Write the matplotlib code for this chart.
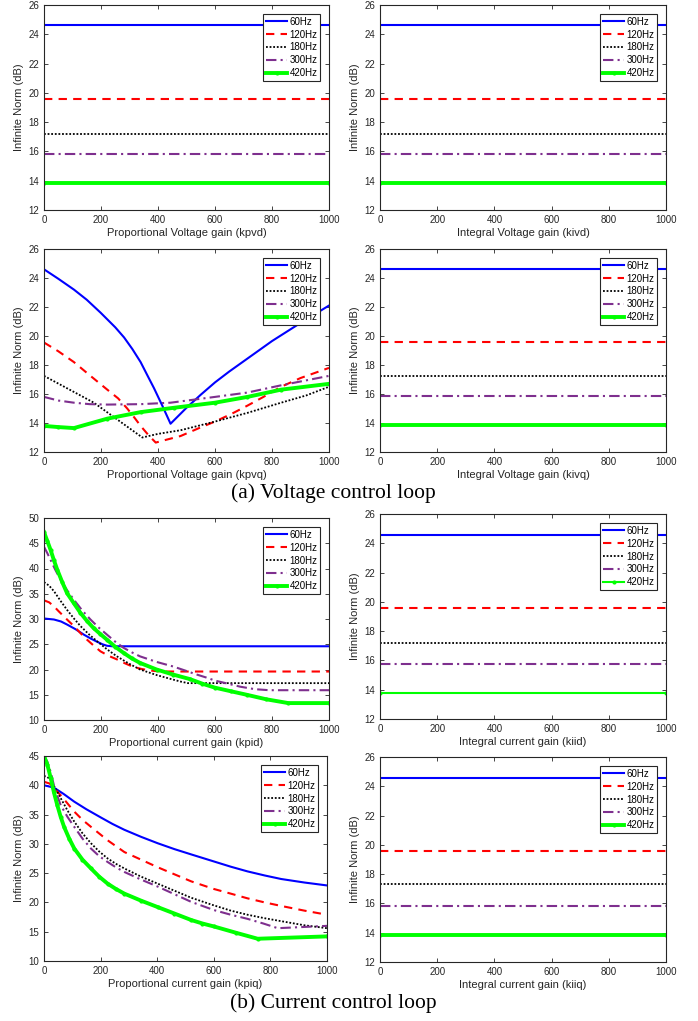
import matplotlib
matplotlib.use('Agg')
import matplotlib.pyplot as plt
import matplotlib.font_manager as fm

# evitar que se elija la variante "Narrow" de Liberation Sans
fm.fontManager.ttflist = [f for f in fm.fontManager.ttflist
                          if 'Narrow' not in f.name and 'Narrow' not in f.fname]
plt.rcParams['font.family'] = ['Liberation Sans', 'DejaVu Sans']

freqs = ['60Hz', '120Hz', '180Hz', '300Hz', '420Hz']
gain_span = [0, 1000]

# niveles constantes (ganancias integrales y kpvd)
kpvd_level = [24.6, 19.6, 17.2, 15.8, 13.85]
kivd_level = [24.6, 19.6, 17.2, 15.8, 13.85]
kivq_level = [24.6, 19.6, 17.25, 15.85, 13.85]
kiid_level = [24.55, 19.55, 17.2, 15.75, 13.8]
kiiq_level = [24.6, 19.6, 17.3, 15.8, 13.85]

# barrido kpvq
kpvq_60_x = [0, 50, 105, 150, 199, 250, 281, 310, 339, 365, 386, 415, 444,
             500, 550, 600, 650, 700, 800, 900, 1000]
kpvq_60_y = [24.6, 23.95, 23.2, 22.5, 21.6, 20.6, 19.9, 19.1, 18.2, 17.2, 16.4, 15.2, 13.95,
             15.05, 15.95, 16.8, 17.55, 18.25, 19.65, 20.9, 22.1]
kpvq_120_x = [0, 50, 105, 160, 222, 260, 292, 320, 339, 365, 392, 430, 479,
              550, 600, 660, 714, 770, 832, 900, 1000]
kpvq_120_y = [19.55, 18.95, 18.2, 17.3, 16.3, 15.7, 15.0, 14.3, 13.8, 13.2, 12.65, 12.85, 13.1,
              13.7, 14.1, 14.65, 15.2, 15.8, 16.5, 17.1, 17.8]
kpvq_180_x = [0, 175, 345, 400, 479, 540, 600, 714, 832, 920, 1000]
kpvq_180_y = [17.25, 15.4, 13.0, 13.25, 13.5, 13.8, 14.1, 14.7, 15.4, 15.9, 16.5]
kpvq_300_x = [0, 50, 105, 160, 222, 339, 444, 600, 714, 832, 1000]
kpvq_300_y = [15.8, 15.55, 15.4, 15.3, 15.27, 15.3, 15.4, 15.8, 16.1, 16.6, 17.25]
kpvq_420_x = [0, 50, 105, 222, 339, 456, 600, 714, 832, 1000]
kpvq_420_y = [13.8, 13.72, 13.65, 14.3, 14.75, 15.05, 15.4, 15.8, 16.3, 16.7]

# barrido kpid
kpid_60_x = [0, 35, 60, 81, 110, 140, 165, 186, 205, 221, 240, 1000]
kpid_60_y = [30.1, 29.9, 29.5, 28.9, 28.0, 26.9, 26.1, 25.5, 25.0, 24.7, 24.6, 24.6]
kpid_120_x = [0, 18, 35, 52, 70, 88, 105, 128, 151, 175, 198, 227, 256, 285, 314,
              343, 372, 410, 1000]
kpid_120_y = [33.7, 33.3, 32.5, 31.5, 30.5, 29.5, 28.6, 27.2, 25.9, 24.7, 23.6, 22.7, 22.0, 21.2, 20.5,
              20.1, 19.8, 19.6, 19.6]
kpid_180_x = [0, 18, 35, 58, 81, 105, 128, 157, 186, 221, 256, 297, 337, 395, 453, 480, 505, 1000]
kpid_180_y = [37.3, 36.6, 35.5, 33.6, 31.8, 30.1, 28.6, 27.0, 25.6, 24.0, 22.6, 21.2, 20.0, 18.9, 18.0,
              17.6, 17.3, 17.3]
kpid_300_x = [0, 12, 23, 40, 58, 81, 105, 134, 163, 192, 221, 250, 279, 308, 337, 395, 453,
              495, 536, 570, 600, 645, 688, 740, 790, 1000]
kpid_300_y = [44.3, 43.0, 41.7, 39.7, 37.8, 35.7, 33.8, 31.7, 29.9, 28.3, 26.9, 25.5, 24.3, 23.4, 22.6,
              21.5, 20.6, 19.8, 19.0, 18.4, 17.8, 17.2, 16.6, 16.1, 15.9, 15.9]
kpid_420_x = [0, 12, 23, 35, 47, 64, 81, 105, 128, 151, 174, 198, 221, 250, 279, 308, 337, 395,
              453, 512, 555, 600, 655, 711, 780, 857, 1000]
kpid_420_y = [47.2, 45.4, 43.7, 41.6, 39.7, 37.3, 35.1, 33.1, 31.2, 29.6, 28.2, 27.0, 25.9, 24.5, 23.3,
              22.2, 21.3, 20.0, 19.0, 18.1, 17.2, 16.4, 15.7, 15.0, 14.1, 13.35, 13.35]

# barrido kpiq
kpiq_60_x = [0, 35, 70, 107, 150, 201, 242, 284, 343, 402, 461, 520, 600, 660, 719, 780, 838,
             920, 1000]
kpiq_60_y = [40.0, 39.6, 38.5, 37.2, 35.9, 34.5, 33.4, 32.4, 31.2, 30.1, 29.1, 28.2, 27.0, 26.1, 25.3,
             24.6, 24.0, 23.4, 22.9]
kpiq_120_x = [0, 20, 35, 59, 83, 107, 136, 166, 225, 284, 343, 402, 461, 520, 600, 660, 719,
              780, 838, 920, 1000]
kpiq_120_y = [40.6, 40.3, 39.5, 38.3, 36.9, 35.5, 34.1, 32.9, 30.6, 28.6, 27.3, 26.0, 24.8, 23.6, 22.3,
              21.5, 20.7, 20.0, 19.4, 18.6, 17.9]
kpiq_180_x = [0, 12, 24, 40, 59, 83, 107, 136, 166, 195, 225, 254, 284, 343, 402, 461, 520, 600,
              660, 719, 780, 838, 920, 1000]
kpiq_180_y = [41.6, 41.4, 40.9, 39.5, 37.8, 35.7, 33.8, 31.8, 30.1, 28.7, 27.5, 26.6, 25.8, 24.4, 23.2,
              22.0, 20.8, 19.5, 18.6, 17.9, 17.3, 16.8, 16.1, 15.6]
kpiq_300_x = [0, 12, 24, 35, 47, 59, 83, 107, 136, 166, 195, 225, 254, 284, 343, 402, 461, 520,
              600, 660, 719, 775, 826, 1000]
kpiq_300_y = [45.0, 44.0, 42.2, 40.0, 38.2, 36.6, 34.6, 32.9, 30.9, 29.2, 27.9, 26.9, 26.0, 25.2, 23.9,
              22.7, 21.4, 20.1, 18.7, 17.9, 17.2, 16.4, 15.6, 16.0]
kpiq_420_x = [0, 12, 24, 35, 47, 59, 71, 89, 107, 136, 166, 195, 225, 254, 284, 343, 402, 461,
              520, 560, 600, 680, 755, 1000]
kpiq_420_y = [45.0, 43.5, 41.2, 38.8, 36.6, 34.6, 32.9, 30.9, 29.2, 27.3, 25.8, 24.4, 23.2, 22.3, 21.5,
              20.3, 19.2, 18.1, 17.0, 16.4, 15.9, 14.8, 13.8, 14.2]

colors = ['#0000ff', '#ff0000', '#000000', '#7e2f8e', '#00ff00']
styles = ['-', (0, (4, 3)), (0, (1, 1)), (0, (5, 2, 1, 2)), '-']
widths = [1.5, 1.5, 1.3, 1.5, 2.8]

W, H = 698, 1021
fig = plt.figure(figsize=(W / 100, H / 100), dpi=100)


def make_ax(x0, y0, x1, y1):
    return fig.add_axes([x0 / W, 1 - y1 / H, (x1 - x0) / W, (y1 - y0) / H])


def style_ax(ax, xlabel, ylim, yticks):
    ax.set_xlim(0, 1000)
    ax.set_ylim(*ylim)
    ax.set_xticks([0, 200, 400, 600, 800, 1000])
    ax.set_yticks(yticks)
    ax.tick_params(direction='in', top=True, right=True, labelsize=7,
                   colors='#262626', length=3, width=0.6)
    for s in ax.spines.values():
        s.set_color('#262626')
        s.set_linewidth(0.8)
    ax.set_xlabel(xlabel, fontsize=8, color='#262626', labelpad=2)
    ax.set_ylabel('Infinite Norm (dB)', fontsize=8, color='#262626', labelpad=3)
    leg = ax.legend(loc='upper right', fontsize=7, fancybox=False, framealpha=1,
                    edgecolor='#262626', borderpad=0.3, labelspacing=0.3,
                    handlelength=2.2, handletextpad=0.2, borderaxespad=0.9)
    leg.get_frame().set_linewidth(0.8)


def plot_curves(ax, xs, ys, green_lw=2.8):
    for i in range(5):
        lw = green_lw if i == 4 else widths[i]
        mk = '.' if i == 4 else None
        ax.plot(xs[i], ys[i], color=colors[i], linestyle=styles[i], linewidth=lw,
                marker=mk, markersize=4, label=freqs[i])


def plot_flat(ax, levels, green_lw=2.8):
    plot_curves(ax, [gain_span] * 5, [[v, v] for v in levels], green_lw)


ticks_v = [12, 14, 16, 18, 20, 22, 24, 26]

# fila 1
ax = make_ax(44, 5, 329, 210)
plot_flat(ax, kpvd_level)
style_ax(ax, 'Proportional Voltage gain (kpvd)', (12, 26), ticks_v)
ax = make_ax(380, 5, 666, 210)
plot_flat(ax, kivd_level)
style_ax(ax, 'Integral Voltage gain (kivd)', (12, 26), ticks_v)

# fila 2
ax = make_ax(44, 249, 329, 452)
plot_curves(ax, [kpvq_60_x, kpvq_120_x, kpvq_180_x, kpvq_300_x, kpvq_420_x],
            [kpvq_60_y, kpvq_120_y, kpvq_180_y, kpvq_300_y, kpvq_420_y])
style_ax(ax, 'Proportional Voltage gain (kpvq)', (12, 26), ticks_v)
ax = make_ax(380, 249, 666, 452)
plot_flat(ax, kivq_level)
style_ax(ax, 'Integral Voltage gain (kivq)', (12, 26), ticks_v)

fig.text(333 / W, 1 - 493 / H, '(a) Voltage control loop', ha='center', va='center',
         fontsize=15.5, family='Liberation Serif')

# fila 3
ax = make_ax(44, 518, 329, 720)
plot_curves(ax, [kpid_60_x, kpid_120_x, kpid_180_x, kpid_300_x, kpid_420_x],
            [kpid_60_y, kpid_120_y, kpid_180_y, kpid_300_y, kpid_420_y])
style_ax(ax, 'Proportional current gain (kpid)', (10, 50), range(10, 51, 5))
ax = make_ax(380, 514, 666, 719)
plot_flat(ax, kiid_level, green_lw=1.5)
style_ax(ax, 'Integral current gain (kiid)', (12, 26), ticks_v)

# fila 4
ax = make_ax(44, 756, 327, 961)
plot_curves(ax, [kpiq_60_x, kpiq_120_x, kpiq_180_x, kpiq_300_x, kpiq_420_x],
            [kpiq_60_y, kpiq_120_y, kpiq_180_y, kpiq_300_y, kpiq_420_y])
style_ax(ax, 'Proportional current gain (kpiq)', (10, 45), range(10, 46, 5))
ax = make_ax(380, 757, 666, 962)
plot_flat(ax, kiiq_level)
style_ax(ax, 'Integral current gain (kiiq)', (12, 26), ticks_v)

fig.text(333 / W, 1 - 1003 / H, '(b) Current control loop', ha='center', va='center',
         fontsize=15.5, family='Liberation Serif')

fig.savefig('out.png', dpi=100)
